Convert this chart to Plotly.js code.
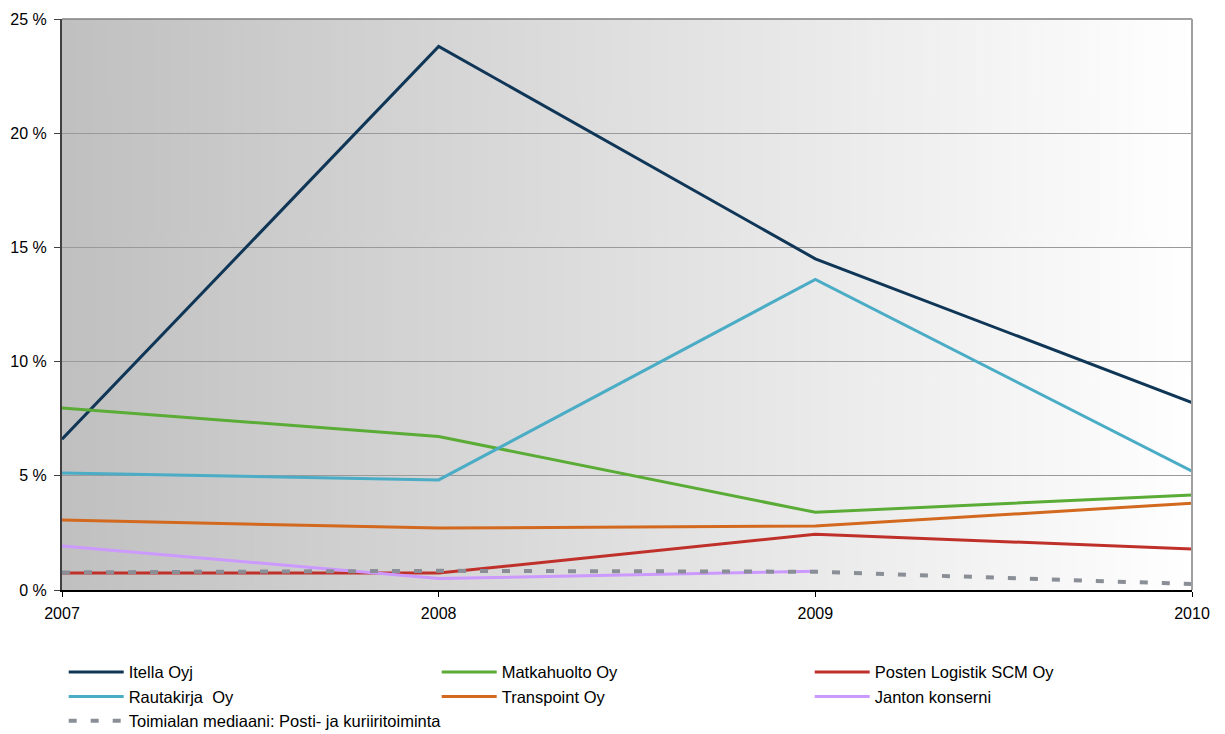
<!DOCTYPE html>
<html>
<head>
<meta charset="utf-8">
<script src="https://cdn.plot.ly/plotly-3.0.1.min.js"></script>
<style>html,body{margin:0;padding:0;background:#fff;}#chart{width:1225px;height:734px;}</style>
</head>
<body>
<div id="chart"></div>
<script>
var years = [2007, 2008, 2009, 2010];
var itella = [6.6, 23.8, 14.5, 8.2];
var matkahuolto = [7.97, 6.72, 3.4, 4.16];
var posten = [0.74, 0.74, 2.44, 1.8];
var rautakirja = [5.12, 4.82, 13.6, 5.2];
var transpoint = [3.06, 2.71, 2.8, 3.8];
var janton = [1.93, 0.5, 0.82, null];
var mediaani = [0.77, 0.84, 0.8, 0.26];

var names = ["Itella Oyj", "Matkahuolto Oy", "Posten Logistik SCM Oy", "Rautakirja  Oy", "Transpoint Oy", "Janton konserni", "Toimialan mediaani: Posti- ja kuriiritoiminta"];
var colors = ["#0f3656", "#5aac36", "#c0302a", "#4bacc6", "#d2691f", "#cc99ff", "#8a8e96"];
var series = [itella, matkahuolto, posten, rautakirja, transpoint, janton, mediaani];

var traces = series.map(function (s, i) {
  var isMedian = i === 6;
  return {
    x: years, y: s, name: names[i], type: "scatter", mode: "lines",
    line: {color: colors[i], width: isMedian ? 4 : 3, dash: isMedian ? "8px,14px" : "solid"},
    connectgaps: false, hoverinfo: "x+y+name"
  };
});

// gradient background image
var cv = document.createElement("canvas");
cv.width = 512; cv.height = 4;
var ctx = cv.getContext("2d");
var g = ctx.createLinearGradient(0, 0, 512, 0);
g.addColorStop(0, "#c0c0c0");
g.addColorStop(1, "#ffffff");
ctx.fillStyle = g; ctx.fillRect(0, 0, 512, 4);
var bg = cv.toDataURL("image/png");

var font = {family: "Liberation Sans, Arial, sans-serif", size: 16, color: "#000"};

var layout = {
  width: 1225, height: 734,
  margin: {l: 62, r: 33, t: 19, b: 144, autoexpand: false},
  paper_bgcolor: "#ffffff",
  plot_bgcolor: "rgba(0,0,0,0)",
  font: font,
  showlegend: true,
  xaxis: {
    range: [2007, 2010], tickvals: years, ticktext: years.map(String),
    showgrid: false, zeroline: false, showline: true, linecolor: "#000", linewidth: 1.5,
    ticks: "outside", ticklen: 5, tickcolor: "#000", tickfont: font, automargin: false,
    ticklabelstandoff: 3
  },
  yaxis: {
    range: [0, 25], dtick: 5, ticksuffix: " %",
    showgrid: true, gridcolor: "#9a9a9a", gridwidth: 1, zeroline: false,
    showline: true, linecolor: "#404040", linewidth: 2,
    ticks: "outside", ticklen: 6, tickcolor: "#404040", tickfont: font, automargin: false,
    ticklabelstandoff: 4
  },
  images: [{source: bg, xref: "paper", yref: "paper", x: 0, y: 1, sizex: 1, sizey: 1,
    sizing: "stretch", layer: "below", xanchor: "left", yanchor: "top"}],
  shapes: [
    {type: "line", xref: "paper", yref: "paper", x0: 0, x1: 1, y0: 1, y1: 1, line: {color: "#808080", width: 1.5}},
    {type: "line", xref: "paper", yref: "paper", x0: 1, x1: 1, y0: 0, y1: 1, line: {color: "#a0a0a0", width: 2}}
  ],
  legend: {
    orientation: "h", xref: "container", yref: "container",
    x: 0.052, xanchor: "left", y: 0.108, yanchor: "top",
    entrywidth: 303, entrywidthmode: "pixels", traceorder: "normal",
    font: {family: "Liberation Sans, Arial, sans-serif", size: 16.5, color: "#000"},
    bgcolor: "rgba(0,0,0,0)", tracegroupgap: 0, itemwidth: 55
  }
};

Plotly.newPlot("chart", traces, layout, {displayModeBar: false, staticPlot: true});
</script>
</body>
</html>
